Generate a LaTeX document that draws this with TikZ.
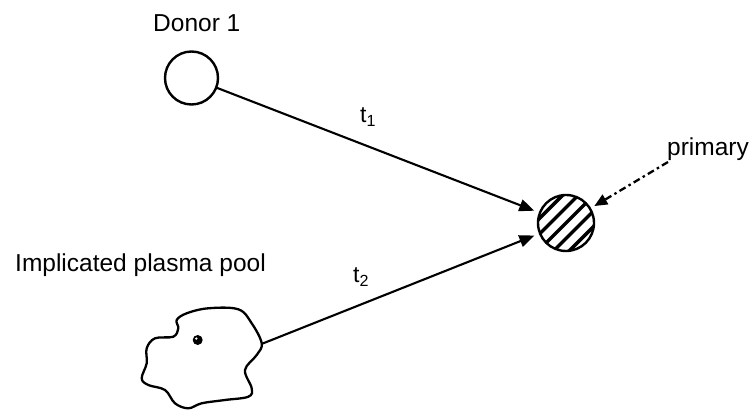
\documentclass[tikz,border=0pt]{standalone}
\usepackage{fontspec}
\setmainfont{Liberation Sans}
\usetikzlibrary{arrows.meta}
\begin{document}
\begin{tikzpicture}[x=1pt,y=-1pt,
  lbl/.style={font=\fontsize{24.5}{29}\selectfont, inner sep=0pt, anchor=base west},
  tlbl/.style={font=\fontsize{23}{27}\selectfont, inner sep=0pt, anchor=base west},
  cell/.style={circle, draw, line width=2.4pt, minimum size=53pt, inner sep=0pt, outer sep=0pt},
  conn/.style={line width=2.1pt, -{Triangle[length=15pt,width=12pt]}, shorten >=6pt},
  dconn/.style={line width=2.3pt, dash pattern=on 7pt off 3.5pt on 2.5pt off 3.5pt, -{Triangle[length=13pt,width=11pt]}, shorten >=5pt}
]
\useasboundingbox (0,0) rectangle (756,411);
% labels
\node[lbl] (donorlbl) at (153,32) {Donor 1};
\node[lbl] (poollbl) at (15,272) {Implicated plasma pool};
\node[lbl] (primlbl) at (667,156) {primary};
\node[tlbl] (t1) at (360,123) {t\textsubscript{1}};
\node[tlbl] (t2) at (353,283) {t\textsubscript{2}};
% donor circle
\node[cell] (donor) at (191.5,78) {};
% target hatched circle
\begin{scope}
  \clip (566,223) circle (28);
  \foreach \k in {-4,...,4} {
    \draw[line width=3.4pt] ({566+\k*7.78-30},{223+\k*7.78+30}) -- ({566+\k*7.78+30},{223+\k*7.78-30});
  }
\end{scope}
\node[circle, draw, line width=2.4pt, minimum size=56pt, inner sep=0pt, outer sep=0pt] (target) at (566,223) {};
% pool blob
\draw[line width=2.3pt] plot[smooth cycle, tension=0.6] coordinates {
  (186.7,313.3) (208.3,308.3) (238.3,309.3) (251.7,323.3) (261.7,343.3)
  (256.7,355) (245,370) (251.7,388.3) (248.3,396.7) (225,400) (201.7,403.3)
  (188.3,408.3) (175,403.3) (165,390) (148.3,385) (141.7,378.3) (146.7,363.3)
  (146.7,348.3) (155,338.3) (173.3,336.7) (178.3,328.3) (176.7,320)};
\filldraw[line width=2.2pt, fill=black] (197.7,340) circle (3.8);
\fill[white] (196.3,338.6) circle (1.3);
\coordinate (pool) at (261.5,344);
\coordinate (pstart) at (668,162);
% connectors
\draw[conn] (donor) -- (target);
\draw[conn] (pool) -- (target);
\draw[dconn] (pstart) -- (target);
\end{tikzpicture}
\end{document}
